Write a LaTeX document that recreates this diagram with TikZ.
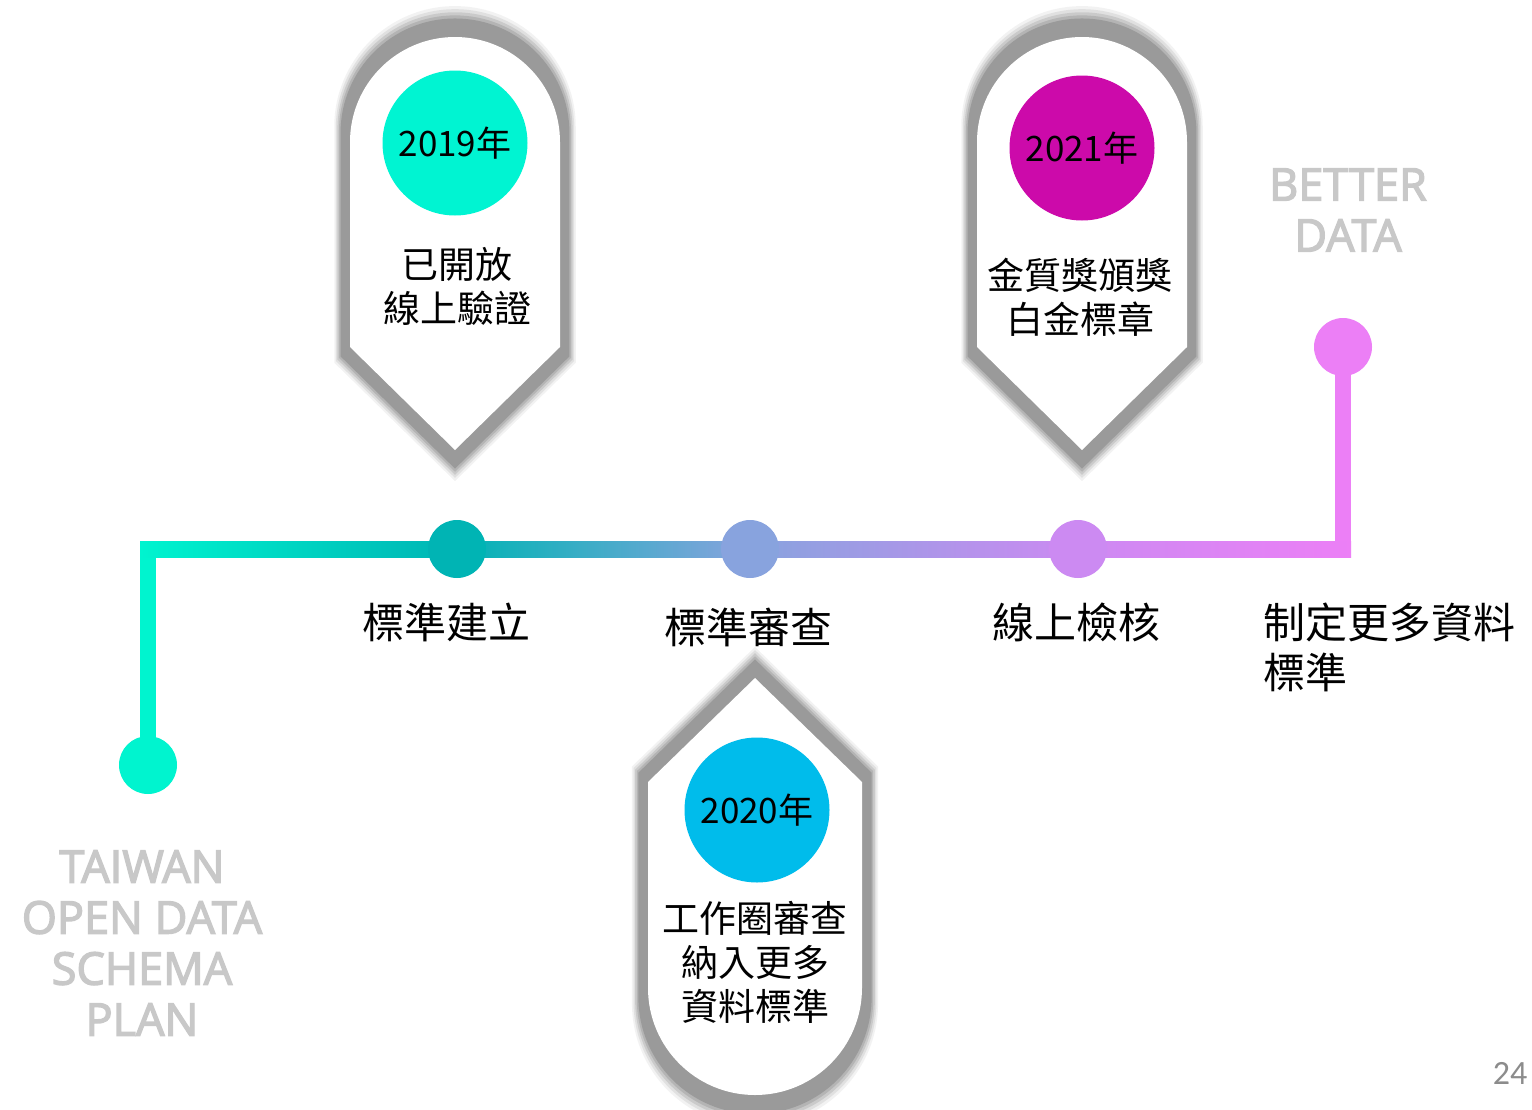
\documentclass[tikz,border=0pt]{standalone}
\usepackage{fontspec}
\setmainfont{Noto Sans CJK TC}
\newfontfamily\greyfont{Open Sans}[FakeBold=3]
\newfontfamily\numfont{Carlito}
\usetikzlibrary{calc}
\definecolor{cstart}{HTML}{00F4CF}
\definecolor{cdotA}{HTML}{00B4B4}
\definecolor{cdotB}{HTML}{88A3DE}
\definecolor{cdotC}{HTML}{CC8AF2}
\definecolor{cend}{HTML}{EC7FF6}
\definecolor{cyA}{HTML}{00F4D2}
\definecolor{cyB}{HTML}{00BCEB}
\definecolor{cyC}{HTML}{CC0AAA}
\definecolor{shadowgray}{HTML}{9A9A9A}
\definecolor{labelgray}{HTML}{C8C8C8}
\definecolor{pagegray}{HTML}{8C8C8C}
\newcommand\pinDpath{(-105,347) -- (-105,142) arc[start angle=180,end angle=0,radius=105pt] -- (105,347) -- (0,450) -- cycle}
\newcommand\pinUpath{(0,678) -- (107,782) -- (107,988) arc[start angle=0,end angle=-180,radius=107pt] -- (-107,782) -- cycle}
\newcommand\pinDown[1]{%
  \begin{scope}[shift={(#1,0)}]
    \foreach \s/\o in {1.15/0.12,1.135/0.2,1.12/0.3,1.105/0.45,1.09/1}{%
      \begin{scope}[shift={(0,243)},scale=\s,shift={(0,-243)}]
        \fill[shadowgray,fill opacity=\o] \pinDpath;
      \end{scope}}
    \fill[white] \pinDpath;
  \end{scope}}
\newcommand\pinUp[1]{%
  \begin{scope}[shift={(#1,0)}]
    \foreach \s/\o in {1.15/0.12,1.135/0.2,1.12/0.3,1.105/0.45,1.09/1}{%
      \begin{scope}[shift={(0,885)},scale=\s,shift={(0,-885)}]
        \fill[shadowgray,fill opacity=\o] \pinUpath;
      \end{scope}}
    \fill[white] \pinUpath;
  \end{scope}}
\tikzset{
  dot/.style={circle,minimum size=58,inner sep=0},
  yearcircle/.style={circle,minimum size=145,inner sep=0,font=\fontsize{35}{40}\selectfont},
  pintext/.style={align=center,inner sep=0,font=\fontsize{37}{44}\selectfont},
  steplabel/.style={inner sep=0,font=\fontsize{42}{50}\selectfont},
  greylabel/.style={align=center,inner sep=0,text=labelgray,font=\greyfont\fontsize{45}{51}\selectfont}
}
\begin{document}
\begin{tikzpicture}[x=1pt,y=-1pt]
\useasboundingbox (0,0) rectangle (1532,1109);
\fill[white] (0,0) rectangle (1532,1109);

% pins
\pinDown{455}
\pinDown{1082}
\pinUp{755}

% timeline coordinates and nodes
\coordinate (cornerL) at (148,549);
\coordinate (cornerR) at (1343,549);
\node[dot,fill=cstart] (startdot) at (148,765) {};
\node[dot,fill=cend] (enddot) at (1343,347) {};
\draw[cstart,line width=16] (startdot.center) -- ($(cornerL)+(0,-8)$);
\draw[cend,line width=16] (enddot.center) -- ($(cornerR)+(0,8)$);
\coordinate (pA) at (457,549);
\coordinate (pB) at (750,549);
\coordinate (pC) at (1078,549);
\shade[left color=cstart,right color=cdotA] ($(cornerL)+(-8,-8)$) rectangle ($(pA)+(0.5,8)$);
\shade[left color=cdotA,right color=cdotB] ($(pA)+(0,-8)$) rectangle ($(pB)+(0.5,8)$);
\shade[left color=cdotB,right color=cdotC] ($(pB)+(0,-8)$) rectangle ($(pC)+(0.5,8)$);
\shade[left color=cdotC,right color=cend] ($(pC)+(0,-8)$) rectangle ($(cornerR)+(8,8)$);
\node[dot,fill=cdotA] (d1) at (pA) {};
\node[dot,fill=cdotB] (d2) at (pB) {};
\node[dot,fill=cdotC] (d3) at (pC) {};

% step labels
\node[steplabel] (s1) at (446,622) {標準建立};
\node[steplabel] (s2) at (748,627) {標準審查};
\node[steplabel] (s3) at (1076,622) {線上檢核};
\node[steplabel,align=left,anchor=west] (s4) at (1263,647) {制定更多資料\\標準};

% pin contents
\node[yearcircle,fill=cyA] (y2019) at (455,143) {2019年};
\node[pintext] (t2019) at (457,286) {已開放\\線上驗證};
\node[yearcircle,fill=cyC] (y2021) at (1082,148) {2021年};
\node[pintext] (t2021) at (1080,297) {金質獎頒獎\\白金標章};
\node[yearcircle,fill=cyB] (y2020) at (757,810) {2020年};
\node[pintext] (t2020) at (755,962) {工作圈審查\\納入更多\\資料標準};

% grey labels
\node[greylabel] (better) at (1348,210) {BETTER\\DATA};
\node[greylabel] (taiwan) at (142,943) {TAIWAN\\OPEN DATA\\SCHEMA\\PLAN};
\node[inner sep=0,text=pagegray,font=\numfont\fontsize{34}{40}\selectfont] (page) at (1510,1073) {24};
\end{tikzpicture}
\end{document}
